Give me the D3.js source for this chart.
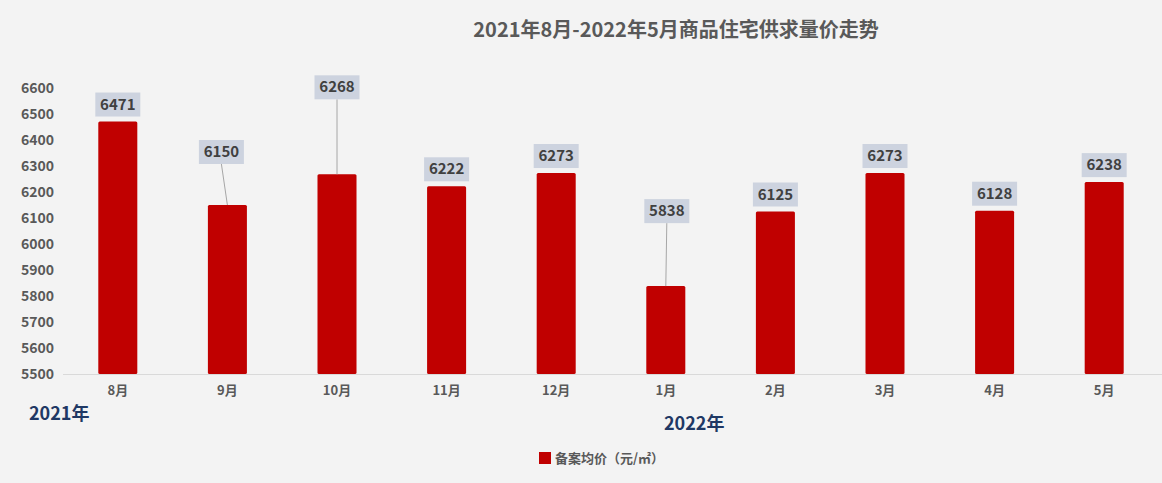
<!DOCTYPE html>
<html>
<head>
<meta charset="utf-8">
<script src="https://cdn.jsdelivr.net/npm/d3@7"></script>
<style>
  html, body { margin: 0; padding: 0; background: #f3f3f3; }
  svg { display: block; font-family: "Noto Sans CJK SC", "Noto Sans", sans-serif; }
</style>
</head>
<body>
<div id="chart"></div>
<script>
// Data
const months = ["8月", "9月", "10月", "11月", "12月", "1月", "2月", "3月", "4月", "5月"];
const prices = [6471, 6150, 6268, 6222, 6273, 5838, 6125, 6273, 6128, 6238];
const yTicks = [5500, 5600, 5700, 5800, 5900, 6000, 6100, 6200, 6300, 6400, 6500, 6600];
const seriesName = "备案均价（元/㎡）";
const titleText = "2021年8月-2022年5月商品住宅供求量价走势";

// label layout: extra lift above bar and horizontal nudge (px)
const labelLift = [0, 36, 70, 0, 0, 58, 0, 0, 0, 0];
const labelNudge = [0, -6, 0, 0, 0, 1, 0, 0, 0, 0];

const width = 1162, height = 483;

const svg = d3.select("#chart").append("svg")
    .attr("width", width)
    .attr("height", height);

svg.append("rect")
    .attr("width", width)
    .attr("height", height)
    .attr("fill", "#f3f3f3");

// Scales
const x = d3.scaleBand()
    .domain(months)
    .range([63, 1159])
    .paddingInner(0.644)
    .paddingOuter(0.322);

const y = d3.scaleLinear()
    .domain([5500, 6600])
    .range([374, 88]);

// Title
svg.append("text")
    .attr("x", 676)
    .attr("y", 37)
    .attr("text-anchor", "middle")
    .style("font-size", "20px")
    .style("font-weight", "bold")
    .style("fill", "#595959")
    .text(titleText);

// Y axis (labels only)
const yAxis = svg.append("g")
    .attr("transform", "translate(62,0)")
    .call(d3.axisLeft(y).tickValues(yTicks).tickFormat(d3.format("d")).tickSize(0).tickPadding(8));
yAxis.select(".domain").remove();
yAxis.selectAll("text")
    .style("font-size", "14px")
    .style("font-weight", "bold")
    .style("fill", "#595959")
    .style("font-family", "'Noto Sans CJK SC', sans-serif");

// X axis
const xAxis = svg.append("g")
    .attr("transform", "translate(0,374)")
    .call(d3.axisBottom(x).tickSize(0).tickPadding(12));
xAxis.select(".domain")
    .attr("d", "M63,0.5H1162")
    .attr("stroke", "#d9d9d9");
xAxis.selectAll("text")
    .style("font-size", "13px")
    .style("font-weight", "bold")
    .style("fill", "#595959")
    .style("font-family", "'Noto Sans CJK SC', sans-serif");

// Bars
svg.selectAll(".bar")
    .data(prices)
    .enter()
    .append("rect")
    .attr("class", "bar")
    .attr("x", (d, i) => x(months[i]))
    .attr("y", d => y(d))
    .attr("width", x.bandwidth())
    .attr("height", d => y(5500) - y(d))
    .attr("rx", 1.5)
    .attr("fill", "#c00000");

// leader lines for lifted labels
svg.selectAll(".leader")
    .data(prices.map((d, i) => ({ d, i })).filter(o => labelLift[o.i] > 0))
    .enter()
    .append("line")
    .attr("class", "leader")
    .attr("x1", o => x(months[o.i]) + x.bandwidth() / 2 + labelNudge[o.i])
    .attr("y1", o => y(o.d) - 5 - labelLift[o.i])
    .attr("x2", o => x(months[o.i]) + x.bandwidth() / 2)
    .attr("y2", o => y(o.d))
    .attr("stroke", "#a6a6a6")
    .attr("stroke-width", 1);

// Data labels
const boxW = 45, boxH = 24;
const labels = svg.selectAll(".label")
    .data(prices)
    .enter()
    .append("g")
    .attr("class", "label")
    .attr("transform", (d, i) => {
        const cx = x(months[i]) + x.bandwidth() / 2 + labelNudge[i];
        const by = y(d) - 5 - labelLift[i];
        return `translate(${cx},${by})`;
    });

labels.append("rect")
    .attr("x", -boxW / 2)
    .attr("y", -boxH)
    .attr("width", boxW)
    .attr("height", boxH)
    .attr("fill", "#cdd3df");

labels.append("text")
    .attr("x", 0)
    .attr("y", -7)
    .attr("text-anchor", "middle")
    .style("font-size", "15px")
    .style("font-weight", "bold")
    .style("fill", "#404040")
    .text(d => d);

// Year labels
svg.append("text")
    .attr("x", 29)
    .attr("y", 420)
    .style("font-size", "18px")
    .style("font-weight", "bold")
    .style("fill", "#1f3864")
    .text("2021年");

svg.append("text")
    .attr("x", 664)
    .attr("y", 430)
    .style("font-size", "18px")
    .style("font-weight", "bold")
    .style("fill", "#1f3864")
    .text("2022年");

// Legend
const legend = svg.append("g")
    .attr("transform", "translate(539,452)");
legend.append("rect")
    .attr("width", 12)
    .attr("height", 12)
    .attr("fill", "#c00000");
legend.append("text")
    .attr("x", 16)
    .attr("y", 11)
    .style("font-size", "13px")
    .style("font-weight", "bold")
    .style("fill", "#595959")
    .text(seriesName);
</script>
</body>
</html>
